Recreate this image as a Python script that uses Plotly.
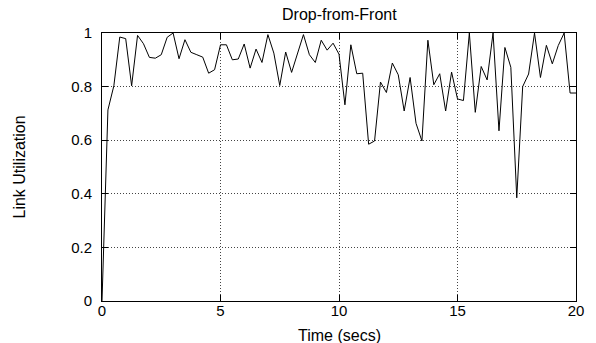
import plotly.graph_objects as go

# Time (secs) sample points
time_secs = [
    0.0, 0.25, 0.5, 0.75, 1.0, 1.25, 1.5, 1.75, 2.0, 2.25,
    2.5, 2.75, 3.0, 3.25, 3.5, 3.75, 4.0, 4.25, 4.5, 4.75,
    5.0, 5.25, 5.5, 5.75, 6.0, 6.25, 6.5, 6.75, 7.0, 7.25,
    7.5, 7.75, 8.0, 8.25, 8.5, 8.75, 9.0, 9.25, 9.5, 9.75,
    10.0, 10.25, 10.5, 10.75, 11.0, 11.25, 11.5, 11.75, 12.0, 12.25,
    12.5, 12.75, 13.0, 13.25, 13.5, 13.75, 14.0, 14.25, 14.5, 14.75,
    15.0, 15.25, 15.5, 15.75, 16.0, 16.25, 16.5, 16.75, 17.0, 17.25,
    17.5, 17.75, 18.0, 18.25, 18.5, 18.75, 19.0, 19.25, 19.5, 19.75,
    20.0,
]

# Link utilization values
link_utilization = [
    0.0, 0.713, 0.803, 0.985, 0.979, 0.803, 0.991, 0.96, 0.909, 0.906,
    0.919, 0.984, 1.0, 0.904, 0.975, 0.928, 0.919, 0.91, 0.85, 0.863,
    0.956, 0.956, 0.9, 0.903, 0.959, 0.869, 0.94, 0.89, 0.994, 0.925,
    0.804, 0.929, 0.853, 0.925, 0.994, 0.919, 0.89, 0.973, 0.936, 0.962,
    0.921, 0.732, 0.956, 0.848, 0.85, 0.585, 0.597, 0.817, 0.778, 0.888,
    0.844, 0.709, 0.834, 0.663, 0.597, 0.973, 0.807, 0.848, 0.709, 0.854,
    0.754, 0.748, 1.0, 0.704, 0.875, 0.825, 1.0, 0.635, 0.946, 0.872,
    0.385, 0.80, 0.847, 1.0, 0.834, 0.954, 0.885, 0.953, 1.0, 0.776,
    0.776,
]

x_ticks = [0, 5, 10, 15, 20]
x_tick_labels = ["0", "5", "10", "15", "20"]
y_ticks = [0, 0.2, 0.4, 0.6, 0.8, 1]
y_tick_labels = ["0", "0.2", "0.4", "0.6", "0.8", "1"]

title_text = "Drop-from-Front"
x_title = "Time (secs)"
y_title = "Link Utilization"

FONT = "Liberation Sans, Arial, Helvetica, sans-serif"

fig = go.Figure()
fig.add_trace(go.Scatter(
    x=time_secs, y=link_utilization, mode="lines",
    line=dict(color="black", width=1), showlegend=False,
    hoverinfo="skip",
))

axis_common = dict(
    showline=True, linecolor="black", linewidth=1, mirror="ticks",
    ticks="inside", ticklen=6, tickcolor="black", tickwidth=1,
    showgrid=True, gridcolor="#444444", gridwidth=1, griddash="1px,2px",
    zeroline=False, tickfont=dict(family=FONT, size=15, color="black"),
)

fig.update_xaxes(range=[0, 20], tickvals=x_ticks, ticktext=x_tick_labels,
                 ticklabelstandoff=-4, **axis_common)
fig.update_yaxes(range=[0, 1], tickvals=y_ticks, ticktext=y_tick_labels,
                 ticklabelstandoff=6, **axis_common)

fig.update_layout(
    width=596, height=343,
    margin=dict(l=101.5, r=13, t=33.3, b=42.3, pad=0),
    paper_bgcolor="white", plot_bgcolor="white",
    font=dict(family=FONT, size=16, color="black"),
    annotations=[
        dict(text=title_text, x=0.5, y=1, xref="paper", yref="paper",
             xanchor="center", yanchor="middle", yshift=18.5,
             showarrow=False, font=dict(family=FONT, size=16, color="black")),
        dict(text=x_title, x=0.5, y=0, xref="paper", yref="paper",
             xanchor="center", yanchor="middle", yshift=-34,
             showarrow=False, font=dict(family=FONT, size=16, color="black")),
        dict(text=y_title, x=0, y=0.5, xref="paper", yref="paper",
             xanchor="center", yanchor="middle", xshift=-83.5, textangle=-90,
             showarrow=False, font=dict(family=FONT, size=16, color="black")),
    ],
)

fig.write_html("out.html")
